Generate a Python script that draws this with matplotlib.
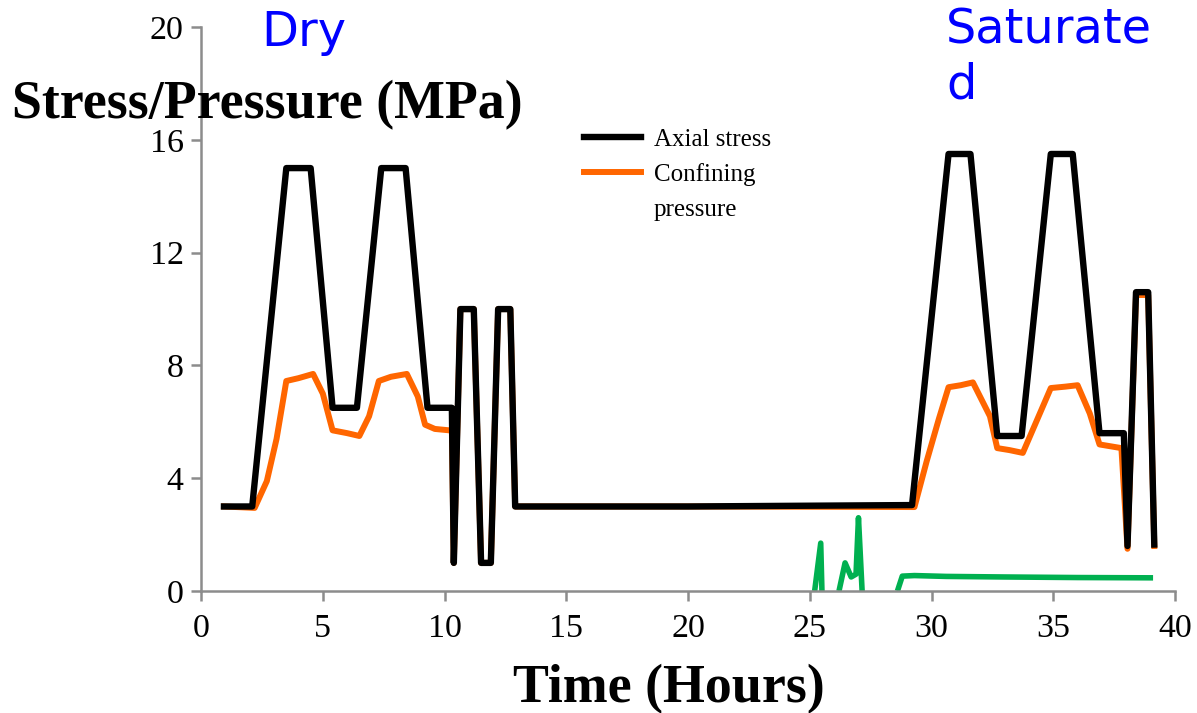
import numpy as np
import matplotlib.pyplot as plt
from matplotlib.lines import Line2D

# axial stress (black)
axial_t = [0.94, 2.1, 3.5, 4.5, 5.4, 6.4, 7.4, 8.4, 9.3, 10.3, 10.38, 10.65, 11.2,
           11.5, 11.9, 12.2, 12.7, 12.9, 20.0, 29.2, 30.7, 31.6, 32.7, 33.7, 34.9,
           35.8, 36.9, 37.9, 38.05, 38.4, 38.9, 39.15]
axial_v = [3.0, 3.0, 15.0, 15.0, 6.5, 6.5, 15.0, 15.0, 6.5, 6.5, 1.0, 10.0, 10.0,
           1.0, 1.0, 10.0, 10.0, 3.0, 3.0, 3.05, 15.5, 15.5, 5.5, 5.5, 15.5,
           15.5, 5.6, 5.6, 1.6, 10.6, 10.6, 1.65]

# confining pressure (orange)
conf_t = [0.94, 2.2, 2.7, 3.1, 3.5, 4.0, 4.6, 5.0, 5.4, 6.0, 6.5, 6.9, 7.3, 7.8,
          8.45, 8.9, 9.2, 9.6, 10.2, 10.3, 10.38, 10.65, 11.2, 11.5, 11.9, 12.2,
          12.7, 12.9, 20.0, 29.3, 29.8, 30.3, 30.7, 31.2, 31.7, 32.4, 32.7, 33.2,
          33.75, 34.4, 34.9, 35.5, 36.0, 36.5, 36.9, 37.8, 38.05, 38.4, 38.9, 39.15]
conf_v = [3.0, 2.95, 3.9, 5.4, 7.45, 7.55, 7.7, 7.0, 5.7, 5.6, 5.5, 6.2, 7.45, 7.6,
          7.7, 6.9, 5.9, 5.75, 5.7, 5.7, 1.0, 10.0, 10.0, 1.0, 1.0, 10.0,
          10.0, 3.0, 3.0, 2.98, 4.6, 6.1, 7.23, 7.3, 7.4, 6.2, 5.07, 5.0,
          4.9, 6.2, 7.2, 7.25, 7.3, 6.3, 5.2, 5.07, 1.5, 10.5, 10.5, 1.6]

# pore pressure (green, unlabelled)
green_t = [25.2, 25.45, 25.5, np.nan, 26.2, 26.45, 26.7, 26.9, 27.0, 27.15, np.nan,
           28.6, 28.8, 29.3, 30.6, 33.0, 36.0, 39.1]
green_v = [0.0, 1.7, 0.0, np.nan, 0.0, 1.0, 0.5, 0.6, 2.6, 0.0, np.nan,
           0.0, 0.53, 0.55, 0.52, 0.5, 0.48, 0.47]

xticks = [0, 5, 10, 15, 20, 25, 30, 35, 40]
yticks = [0, 4, 8, 12, 16, 20]

fig = plt.figure(figsize=(11.97, 7.13), dpi=100)
ax = fig.add_axes([0.168, 0.171, 0.8136, 0.791])

ax.plot(green_t, green_v, color='#00b050', lw=4, solid_capstyle='butt', clip_on=False)
l_conf, = ax.plot(conf_t, conf_v, color='#ff6600', lw=4.3)
l_ax, = ax.plot(axial_t, axial_v, color='black', lw=4.6)

ax.set_xlim(0, 40)
ax.set_ylim(0, 20)
ax.set_xticks(xticks)
ax.set_yticks(yticks)
for s in ['top', 'right']:
    ax.spines[s].set_visible(False)
for s in ['left', 'bottom']:
    ax.spines[s].set_color('#8c8c8c')
    ax.spines[s].set_linewidth(1.8)
ax.tick_params(direction='out', length=7.5, width=1.8, color='#8c8c8c',
               labelsize=24.5)
ax.tick_params(axis='x', pad=9)
ax.tick_params(axis='y', pad=5)
for lab in ax.get_xticklabels() + ax.get_yticklabels():
    lab.set_fontfamily('Liberation Serif')

fig.text(0.01, 0.852, 'Stress/Pressure (MPa)', fontsize=38.8, fontweight='bold',
         family='Liberation Serif', ha='left', va='center')
fig.text(0.559, 0.033, 'Time (Hours)', fontsize=38.8, fontweight='bold',
         family='Liberation Serif', ha='center', va='center')

ax.text(4.2, 19.8, 'Dry', color='#0000ff', fontsize=34.5, family='DejaVu Sans',
        ha='center', va='center', clip_on=False)
ax.text(30.6, 20.72, 'Saturate\nd', color='#0000ff', fontsize=34.5, family='DejaVu Sans',
        ha='left', va='top', linespacing=1.22, clip_on=False)

# legend: second label wraps onto a line with no handle
blank = Line2D([], [], color='none')
ax.legend([l_ax, l_conf, blank], ['Axial stress', 'Confining', 'pressure'],
          loc='upper left', bbox_to_anchor=(0.37, 0.86),
          frameon=False, prop={'family': 'Liberation Serif', 'size': 18},
          handlelength=2.3, handletextpad=0.5, labelspacing=0.48)

fig.savefig('out.png', dpi=100)
